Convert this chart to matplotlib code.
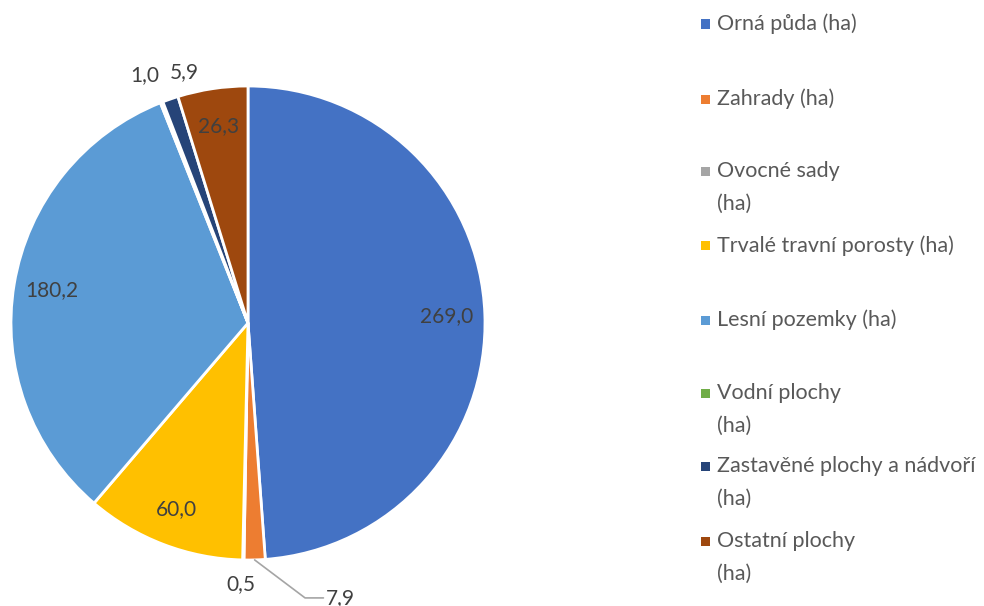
import numpy as np
import matplotlib.pyplot as plt
from matplotlib.patches import Rectangle

# Data
kategorie = ['Orná půda (ha)', 'Zahrady (ha)', 'Ovocné sady\n(ha)',
             'Trvalé travní porosty (ha)', 'Lesní pozemky (ha)',
             'Vodní plochy\n(ha)', 'Zastavěné plochy a nádvoří\n(ha)',
             'Ostatní plochy\n(ha)']
hodnoty = [269.0, 7.9, 0.5, 60.0, 180.2, 1.0, 5.9, 26.3]
barvy = ['#4472C4', '#ED7D31', '#A5A5A5', '#FFC000', '#5B9BD5',
         '#70AD47', '#264478', '#9E480E']

plt.rcParams['font.family'] = ['Lato', 'DejaVu Sans']

W, H = 984, 606
fig = plt.figure(figsize=(W / 100, H / 100), dpi=100)

# pie axes: center ~ (248, 323) px, radius ~ 237 px
cx, cy, r = 248, 323, 237
ax = fig.add_axes([(cx - r) / W, (H - cy - r) / H, 2 * r / W, 2 * r / H])
wedges, _ = ax.pie(hodnoty, colors=barvy, startangle=90, counterclock=False,
                   radius=1.0, wedgeprops=dict(edgecolor='white', linewidth=2))
ax.set_xlim(-1, 1)
ax.set_ylim(-1, 1)
ax.set_aspect('equal')
ax.axis('off')

def fmt(v):
    return f'{v:.1f}'.replace('.', ',')

# posuny malych popisku, aby se neprekryvaly
posun = {2: (-0.01, 0.0), 5: (-0.035, 0.02), 6: (0.09, 0.02)}

for i, (w, v) in enumerate(zip(wedges, hodnoty)):
    ang = np.deg2rad((w.theta1 + w.theta2) / 2)
    if v > 20:
        rr = 0.84
        ax.text(rr * np.cos(ang), rr * np.sin(ang), fmt(v), ha='center',
                va='center', fontsize=15, color='#404040')
    elif i == 1:
        x0, y0 = np.cos(ang), np.sin(ang)
        ax.annotate(fmt(v), xy=(x0, y0), xytext=(0.33, -1.16),
                    ha='left', va='center', fontsize=15, color='#404040',
                    annotation_clip=False,
                    arrowprops=dict(arrowstyle='-', color='#A5A5A5', lw=1.2,
                                    shrinkA=0, shrinkB=0,
                                    connectionstyle='angle,angleA=0,angleB=-37,rad=0'))
    else:
        rr = 1.1
        dx, dy = posun.get(i, (0, 0))
        ax.text(rr * np.cos(ang) + dx, rr * np.sin(ang) + dy, fmt(v),
                ha='center', va='center', fontsize=15, color='#404040')

# legenda rucne (jako v Excelu, zalomene polozky)
radky_y = [24, 99, 171, 246, 320, 393, 466, 541]
for lab, col, y in zip(kategorie, barvy, radky_y):
    fig.patches.append(Rectangle((701 / W, 1 - (y + 4.5) / H), 9 / W, 9 / H,
                                 transform=fig.transFigure, facecolor=col,
                                 edgecolor='none'))
    for k, line in enumerate(lab.split('\n')):
        fig.text(717 / W, 1 - (y + 33 * k) / H, line, ha='left', va='center',
                 fontsize=15.5, color='#595959')

fig.savefig('out.png', dpi=100)
